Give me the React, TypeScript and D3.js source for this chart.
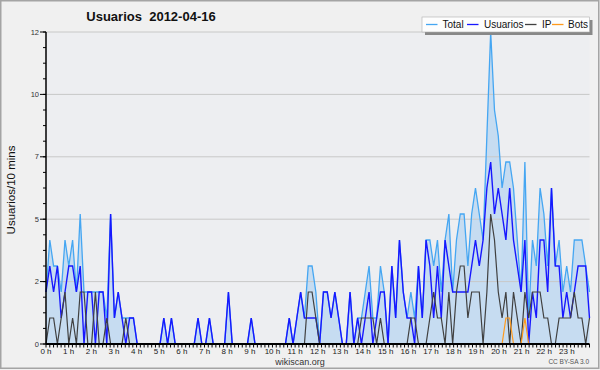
import React from "react";
import * as d3 from "d3";

// ---- data (10-minute intervals, 2012-04-16) ----
const usuarios = [
  2,3,2,3,1,2,3,3,2,3,
  0,2,2,0,2,2,0,5,1,2,
  1,0,1,1,0,0,0,0,0,0,
  0,1,0,1,0,0,0,0,0,0,
  1,0,0,1,0,0,0,0,2,0,
  0,0,0,0,1,0,0,0,0,0,
  0,0,0,0,1,0,1,2,1,1,
  1,1,0,2,2,1,2,1,0,0,
  2,0,1,0,1,2,0,1,2,2,
  0,3,1,4,2,1,1,0,3,1,
  4,3,1,3,1,4,3,2,2,2,
  2,2,3,4,3,4,6,7,5,6,
  5,4,6,4,3,2,4,0,2,1,
  4,4,2,6,3,3,1,2,1,2,
  3,3,3,1,
];
const ip = [
  0,1,1,0,1,2,0,1,0,2,
  2,0,0,2,0,0,1,0,0,0,
  0,1,0,0,0,0,0,0,0,0,
  0,0,0,0,0,0,0,0,0,0,
  0,0,0,0,0,0,0,0,0,0,
  0,0,0,0,0,0,0,0,0,0,
  0,0,0,0,0,0,0,0,0,2,
  2,1,0,0,0,0,0,0,0,0,
  0,0,0,1,1,1,1,0,1,0,
  0,0,0,0,0,0,1,1,0,0,
  0,1,2,1,1,0,2,0,2,3,
  3,1,2,2,2,0,2,5,4,2,
  1,2,0,2,1,0,2,1,2,2,
  2,1,1,0,0,1,1,1,1,2,
  1,1,0,1,
];
const bots = [
  0,0,0,0,0,0,0,0,0,0,
  0,0,0,0,0,0,0,0,0,0,
  0,0,0,0,0,0,0,0,0,0,
  0,0,0,0,0,0,0,0,0,0,
  0,0,0,0,0,0,0,0,0,0,
  0,0,0,0,0,0,0,0,0,0,
  0,0,0,0,0,0,0,0,0,0,
  0,0,0,0,0,0,0,0,0,0,
  0,0,0,0,0,0,0,0,0,0,
  0,0,0,0,0,0,0,0,0,0,
  0,0,0,0,0,0,0,0,0,0,
  0,0,0,0,0,0,0,0,0,0,
  0,1,1,0,0,0,1,0,0,0,
  0,0,0,0,0,0,0,0,0,0,
  0,0,0,0,
];
const total = [
  2,4,3,3,2,4,3,4,2,5,
  2,2,2,2,2,2,1,5,1,2,
  1,1,1,1,0,0,0,0,0,0,
  0,1,0,1,0,0,0,0,0,0,
  1,0,0,1,0,0,0,0,2,0,
  0,0,0,0,1,0,0,0,0,0,
  0,0,0,0,1,0,1,2,1,3,
  3,2,0,2,2,1,2,1,0,0,
  2,0,1,1,2,3,1,1,3,2,
  0,3,1,4,2,1,2,1,3,1,
  4,4,3,4,2,4,5,2,4,5,
  5,3,5,6,5,4,8,12,9,8,
  6,7,7,6,4,2,7,1,4,3,
  6,5,3,6,3,4,2,3,2,4,
  4,4,3,2,
];

const hourLabels = [
  "0 h","1 h","2 h","3 h","4 h","5 h","6 h","7 h","8 h","9 h","10 h","11 h",
  "12 h","13 h","14 h","15 h","16 h","17 h","18 h","19 h","20 h","21 h","22 h","23 h",
];
const yTickValues = [0, 2.4, 4.8, 7.2, 9.6, 12];
const yTickLabels = ["0", "2", "5", "7", "10", "12"];

const seriesNames = ["Total", "Usuarios", "IP", "Bots"];
const seriesColors = ["#45a6f2", "#1717ff", "#404040", "#ff9a1c"];

const W = 600, H = 370;
const L = 46, R = 589.5, T = 32, B = 344;
const FONT = "'Liberation Sans', Arial, sans-serif";

export default function App() {
  const xi = d3.scaleLinear().domain([0, total.length - 1]).range([L, R]);
  const xt = d3.scaleLinear().domain([0, 24 * 6]).range([L, R]);
  const y = d3.scaleLinear().domain([0, 12]).range([B, T]);

  const line = d3.line<number>().x((_, i) => xi(i)).y((d) => y(d));
  const area = d3.area<number>().x((_, i) => xi(i)).y0(B).y1((d) => y(d));

  const minorY = d3.range(0, 12.0001, 0.6);
  const minorX = d3.range(0, 24 * 6 + 1);

  const legendX = [426, 467, 525, 552];
  const legendTextX = [442.5, 484, 542, 568];

  return (
    <>
      <style>{`body{margin:0}`}</style>
      <svg width={W} height={H} style={{ display: "block" }} fontFamily={FONT}>
        <rect x={0} y={0} width={W} height={H} fill="#f0f0f0" />
        <rect x={0.75} y={0.75} width={W - 2} height={H - 2.5} fill="none" stroke="#a4a4a4" strokeWidth={1.5} />
        <rect x={L} y={T} width={R - L} height={B - T} fill="#edeef1" />

        {/* fill under total */}
        <path d={area(total) || ""} fill="#c6dcf1" />

        {/* grid */}
        {yTickValues.slice(1).map((v) => (
          <line key={v} x1={L} x2={R} y1={y(v)} y2={y(v)} stroke="#c8c8c8" strokeWidth={1} />
        ))}

        {/* series */}
        <path d={line(total) || ""} fill="none" stroke={seriesColors[0]} strokeWidth={1.3} />
        <path d={line(usuarios) || ""} fill="none" stroke={seriesColors[1]} strokeWidth={1.4} />
        <path d={line(ip) || ""} fill="none" stroke={seriesColors[2]} strokeWidth={1.2} />
        <path d={line(bots) || ""} fill="none" stroke={seriesColors[3]} strokeWidth={1.2} />

        {/* y axis */}
        <line x1={L} x2={L} y1={T} y2={B} stroke="#000" strokeWidth={1.5} />
        {minorY.map((v, i) => (
          <line key={i} x1={L - 3} x2={L} y1={y(v)} y2={y(v)} stroke="#000" strokeWidth={1} />
        ))}
        {yTickValues.map((v, i) => (
          <g key={v}>
            <line x1={L - 6} x2={L} y1={y(v)} y2={y(v)} stroke="#000" strokeWidth={1} />
            <text x={L - 7} y={y(v) + 2.5} fontSize={7.5} textAnchor="end" fill="#333">{yTickLabels[i]}</text>
          </g>
        ))}

        {/* x axis */}
        {minorX.map((t) => (
          <line key={t} x1={xt(t)} x2={xt(t)} y1={B} y2={B + 3.5} stroke="#000" strokeWidth={1} />
        ))}
        <line x1={L} x2={R} y1={B} y2={B} stroke="#000" strokeWidth={2} />
        {hourLabels.map((lab, h) => (
          <text key={lab} x={xt(h * 6)} y={353.5} fontSize={8} textAnchor="middle" fill="#222">{lab}</text>
        ))}

        {/* titles */}
        <text x={151} y={21} fontSize={13} fontWeight="bold" textAnchor="middle" fill="#111" style={{ whiteSpace: "pre" }}>
          {"Usuarios  2012-04-16"}
        </text>
        <text transform={`translate(15,190) rotate(-90)`} fontSize={11.5} textAnchor="middle" fill="#111">
          Usuarios/10 mins
        </text>
        <text x={300} y={365} fontSize={9} textAnchor="middle" fill="#333">wikiscan.org</text>
        <text x={589} y={364} fontSize={6.5} textAnchor="end" fill="#555">CC BY-SA 3.0</text>

        {/* legend */}
        <rect x={425} y={20} width={167.5} height={15} fill="#888" />
        <rect x={422} y={17} width={167.5} height={15} fill="#fdfdfd" stroke="#b0b0b0" strokeWidth={0.6} />
        {seriesNames.map((n, i) => (
          <g key={n}>
            <line x1={legendX[i]} x2={legendX[i] + 11.5} y1={24.5} y2={24.5} stroke={seriesColors[i]} strokeWidth={1.3} />
            <text x={legendTextX[i]} y={28.3} fontSize={10} fill="#111">{n}</text>
          </g>
        ))}
      </svg>
    </>
  );
}
